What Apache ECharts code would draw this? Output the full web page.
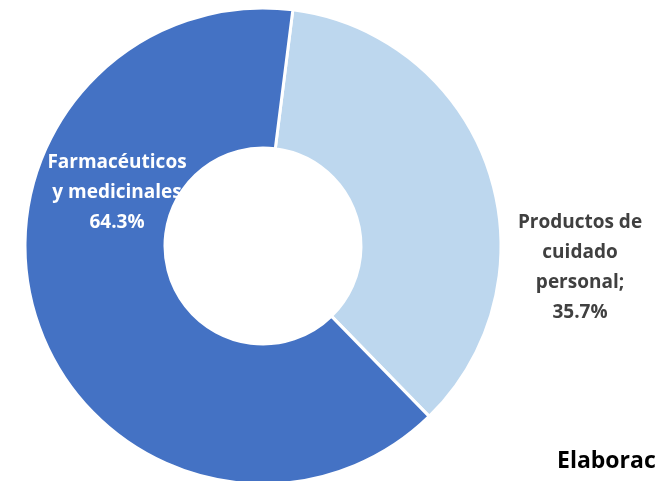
<!DOCTYPE html>
<html><head><meta charset="utf-8">
<script src="https://cdn.jsdelivr.net/npm/echarts@6/dist/echarts.min.js"></script>
<style>html,body{margin:0;padding:0;background:#fff}#c{width:657px;height:481px}</style>
</head><body><div id="c"></div>
<script>
const categories = ['Productos de\ncuidado\npersonal;', 'Farmacéuticos\ny medicinales'];
const values = [35.7, 64.3];
const colors = ['#BDD7EE', '#4472C4'];
const labelColors = ['#404040', '#FFFFFF'];
const labelPos = [[580, 268], [117, 193]];

const chart = echarts.init(document.getElementById('c'));
chart.setOption({
  animation: false,
  series: [{
    type: 'pie',
    center: [263, 246],
    radius: [98, 238],
    startAngle: 82.8,
    clockwise: true,
    avoidLabelOverlap: false,
    itemStyle: { borderColor: '#fff', borderWidth: 3 },
    labelLine: { show: false },
    label: {
      show: true,
      position: 'inside',
      fontFamily: '"Open Sans", sans-serif',
      fontWeight: 'bold',
      fontSize: 19,
      lineHeight: 30,
      align: 'center',
      verticalAlign: 'middle'
    },
    labelLayout: function (p) {
      return { x: labelPos[p.dataIndex][0], y: labelPos[p.dataIndex][1], align: 'center', verticalAlign: 'middle' };
    },
    data: categories.map((n, i) => ({
      name: n, value: values[i],
      itemStyle: { color: colors[i] },
      label: { color: labelColors[i], formatter: (p) => p.name + '\n' + values[i].toFixed(1) + '%' }
    }))
  }],
  graphic: [{
    type: 'text', left: 557, top: 450,
    style: { text: 'Elaborac', fontFamily: '"Open Sans", sans-serif', fontWeight: 'bold', fontSize: 23, fill: '#000' }
  }]
});
</script></body></html>
